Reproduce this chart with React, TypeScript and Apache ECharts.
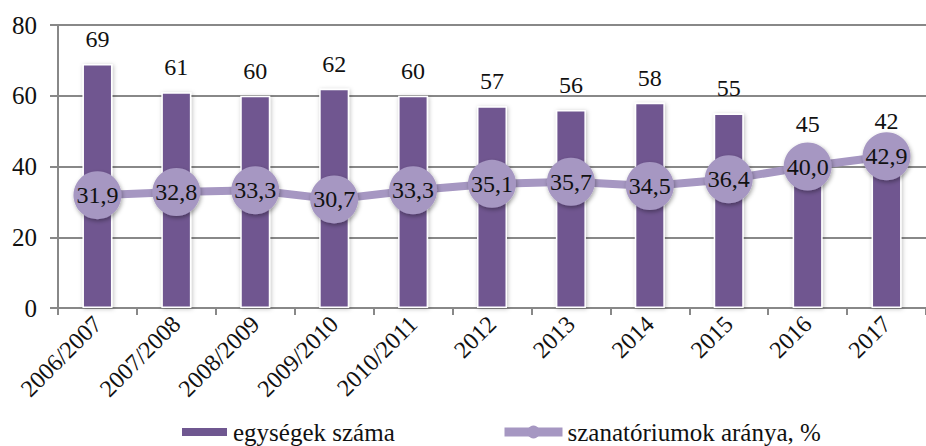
import React, { useEffect, useRef } from "react";
import * as echarts from "echarts";

const categories = ["2006/2007", "2007/2008", "2008/2009", "2009/2010", "2010/2011", "2012", "2013", "2014", "2015", "2016", "2017"];
const unitCounts = [69, 61, 60, 62, 60, 57, 56, 58, 55, 45, 42];
const sanatoriumShare = [31.9, 32.8, 33.3, 30.7, 33.3, 35.1, 35.7, 34.5, 36.4, 40.0, 42.9];
const yTicks = [0, 20, 40, 60, 80];

const FONT = "Liberation Serif, Times New Roman, serif";
const BAR = "#6f5790";
const LINE = "#a697c2";

export default function App() {
  const ref = useRef<HTMLDivElement>(null);
  useEffect(() => {
    const chart = echarts.init(ref.current!, null, { renderer: "svg" });
    const barData = unitCounts.map((v, i) =>
      i === unitCounts.length - 1 ? { value: v, label: { distance: 26 } } : v
    );
    chart.setOption({
      animation: false,
      grid: { left: 58, width: 880, top: 25, height: 283, containLabel: false },
      legend: [
        {
          data: [{ name: "egységek száma", icon: "rect" }],
          left: 175, top: 414, itemWidth: 47, itemHeight: 10, itemGap: 7,
          textStyle: { fontFamily: FONT, fontSize: 25, lineHeight: 26, color: "#111" },
        },
        {
          data: [{ name: "szanatóriumok aránya, %", lineStyle: { width: 9 } }],
          left: 495, top: 414, itemWidth: 58, itemHeight: 16, itemGap: 3,
          textStyle: { fontFamily: FONT, fontSize: 25, lineHeight: 26, color: "#111" },
        },
      ],
      xAxis: {
        type: "category",
        data: categories,
        axisLine: { lineStyle: { color: "#888", width: 2 } },
        axisTick: { show: true, length: 7, lineStyle: { color: "#888", width: 2 } },
        axisLabel: { rotate: 45, fontFamily: FONT, fontSize: 24, color: "#111", margin: 12, interval: 0 },
      },
      yAxis: {
        type: "value",
        min: 0, max: 80, interval: 20,
        axisLine: { show: true, lineStyle: { color: "#888", width: 2 } },
        axisTick: { show: true, length: 8, lineStyle: { color: "#888", width: 2 } },
        splitLine: { lineStyle: { color: "#888", width: 2 } },
        axisLabel: {
          fontFamily: FONT, fontSize: 25, color: "#111", margin: 21,
          formatter: (v: number) => (yTicks.includes(v) ? String(v) : ""),
        },
      },
      series: [
        {
          name: "egységek száma",
          type: "bar",
          data: barData,
          barWidth: 30,
          itemStyle: { color: BAR, shadowColor: "rgba(0,0,0,0.25)", shadowBlur: 4, shadowOffsetX: 1, shadowOffsetY: 1, borderColor: "#fff", borderWidth: 1.5 },
          label: { show: true, position: "top", distance: 13, fontFamily: FONT, fontSize: 24, color: "#111" },
          z: 2,
        },
        {
          name: "szanatóriumok aránya, %",
          type: "line",
          data: sanatoriumShare,
          symbol: "circle",
          symbolSize: 48,
          lineStyle: { color: LINE, width: 8 },
          itemStyle: { color: LINE, shadowColor: "rgba(0,0,0,0.35)", shadowBlur: 4, shadowOffsetX: 1, shadowOffsetY: 2 },
          label: {
            show: true, position: "inside", fontFamily: FONT, fontSize: 24, color: "#111",
            formatter: (p: any) => p.value.toFixed(1).replace(".", ","),
          },
          z: 3,
        },
      ],
    });
    return () => chart.dispose();
  }, []);
  return <div ref={ref} style={{ width: 926, height: 446, position: "absolute", left: 0, top: 0, background: "#fff" }} />;
}
